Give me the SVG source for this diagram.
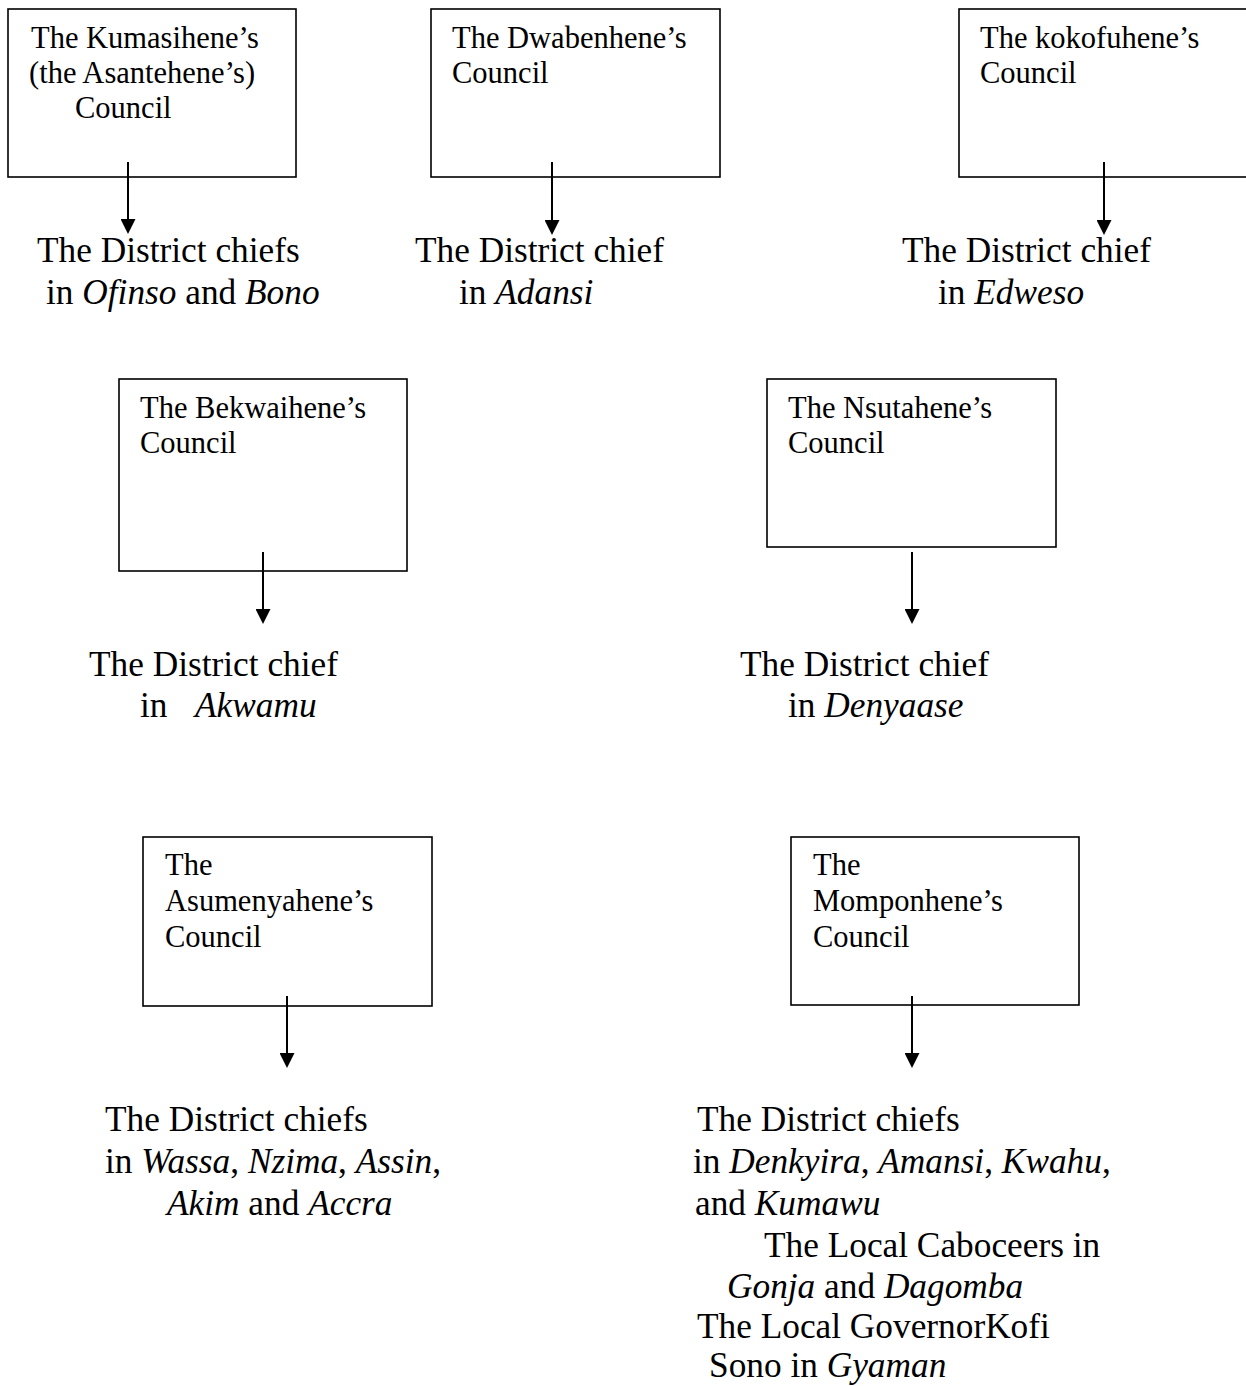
<svg xmlns="http://www.w3.org/2000/svg" width="1246" height="1386" viewBox="0 0 1246 1386">
<style>
  .box { fill: #fff; stroke: #000; stroke-width: 1.6; }
  .bt { font-family: "Liberation Serif", "Times New Roman", serif; font-size: 30.5px; fill: #000; }
  .lt { font-family: "Liberation Serif", "Times New Roman", serif; font-size: 35.3px; fill: #000; }
  .it { font-style: italic; }
  .conn { stroke: #000; stroke-width: 2; fill: none; marker-end: url(#ah); }
</style>
<defs>
  <marker id="ah" markerUnits="userSpaceOnUse" viewBox="0 0 15 15" markerWidth="15" markerHeight="15" refX="5" refY="7.5" orient="auto">
    <path d="M0,0 L15,7.5 L0,15 Z" fill="#000"/>
  </marker>
</defs>
<rect width="1246" height="1386" fill="#fff"/>

<g id="kumasihene">
  <rect class="box" x="8" y="9" width="288" height="168"/>
  <text class="bt" x="31" y="48">The Kumasihene’s</text>
  <text class="bt" x="29" y="83">(the Asantehene’s)</text>
  <text class="bt" x="75" y="118">Council</text>
</g>
<g id="dwabenhene">
  <rect class="box" x="431" y="9" width="289" height="168"/>
  <text class="bt" x="452" y="48">The Dwabenhene’s</text>
  <text class="bt" x="452" y="83">Council</text>
</g>
<g id="kokofuhene">
  <rect class="box" x="959" y="9" width="300" height="168"/>
  <text class="bt" x="980" y="48">The kokofuhene’s</text>
  <text class="bt" x="980" y="83">Council</text>
</g>
<g id="bekwaihene">
  <rect class="box" x="119" y="379" width="288" height="192"/>
  <text class="bt" x="140" y="418">The Bekwaihene’s</text>
  <text class="bt" x="140" y="453">Council</text>
</g>
<g id="nsutahene">
  <rect class="box" x="767" y="379" width="289" height="168"/>
  <text class="bt" x="788" y="418">The Nsutahene’s</text>
  <text class="bt" x="788" y="453">Council</text>
</g>
<g id="asumenyahene">
  <rect class="box" x="143" y="837" width="289" height="169"/>
  <text class="bt" x="165" y="875">The</text>
  <text class="bt" x="165" y="911">Asumenyahene’s</text>
  <text class="bt" x="165" y="947">Council</text>
</g>
<g id="momponhene">
  <rect class="box" x="791" y="837" width="288" height="168"/>
  <text class="bt" x="813" y="875">The</text>
  <text class="bt" x="813" y="911">Momponhene’s</text>
  <text class="bt" x="813" y="947">Council</text>
</g>

<g id="chiefs-ofinso-bono">
  <text class="lt" x="37" y="262">The District chiefs</text>
  <text class="lt" x="46" y="304">in <tspan class="it">Ofinso</tspan> and <tspan class="it">Bono</tspan></text>
</g>
<g id="chief-adansi">
  <text class="lt" x="415" y="262">The District chief</text>
  <text class="lt" x="459" y="304">in <tspan class="it">Adansi</tspan></text>
</g>
<g id="chief-edweso">
  <text class="lt" x="902" y="262">The District chief</text>
  <text class="lt" x="938" y="304">in <tspan class="it">Edweso</tspan></text>
</g>
<g id="chief-akwamu">
  <text class="lt" x="89" y="676">The District chief</text>
  <text class="lt" x="140" y="717">in<tspan class="it" x="195">Akwamu</tspan></text>
</g>
<g id="chief-denyaase">
  <text class="lt" x="740" y="676">The District chief</text>
  <text class="lt" x="788" y="717">in <tspan class="it">Denyaase</tspan></text>
</g>
<g id="chiefs-wassa">
  <text class="lt" x="105" y="1131">The District chiefs</text>
  <text class="lt" x="105" y="1173">in <tspan class="it">Wassa</tspan>, <tspan class="it">Nzima</tspan>, <tspan class="it">Assin</tspan>,</text>
  <text class="lt" x="167" y="1215"><tspan class="it">Akim</tspan> and <tspan class="it">Accra</tspan></text>
</g>
<g id="chiefs-denkyira">
  <text class="lt" x="697" y="1131">The District chiefs</text>
  <text class="lt" x="693" y="1173">in <tspan class="it">Denkyira</tspan>, <tspan class="it">Amansi</tspan>, <tspan class="it">Kwahu</tspan>,</text>
  <text class="lt" x="695" y="1215">and <tspan class="it">Kumawu</tspan></text>
  <text class="lt" x="764" y="1257">The Local Caboceers in</text>
  <text class="lt" x="727" y="1298"><tspan class="it">Gonja</tspan> and <tspan class="it">Dagomba</tspan></text>
  <text class="lt" x="697" y="1338">The Local GovernorKofi</text>
  <text class="lt" x="709" y="1377">Sono in <tspan class="it">Gyaman</tspan></text>
</g>

<g id="connectors">
  <line class="conn" x1="128" y1="162" x2="128" y2="224"/>
  <line class="conn" x1="552" y1="162" x2="552" y2="225"/>
  <line class="conn" x1="1104" y1="162" x2="1104" y2="225"/>
  <line class="conn" x1="263" y1="552" x2="263" y2="614"/>
  <line class="conn" x1="912" y1="552" x2="912" y2="614"/>
  <line class="conn" x1="287" y1="996" x2="287" y2="1058"/>
  <line class="conn" x1="912" y1="996" x2="912" y2="1058"/>
</g>
</svg>
